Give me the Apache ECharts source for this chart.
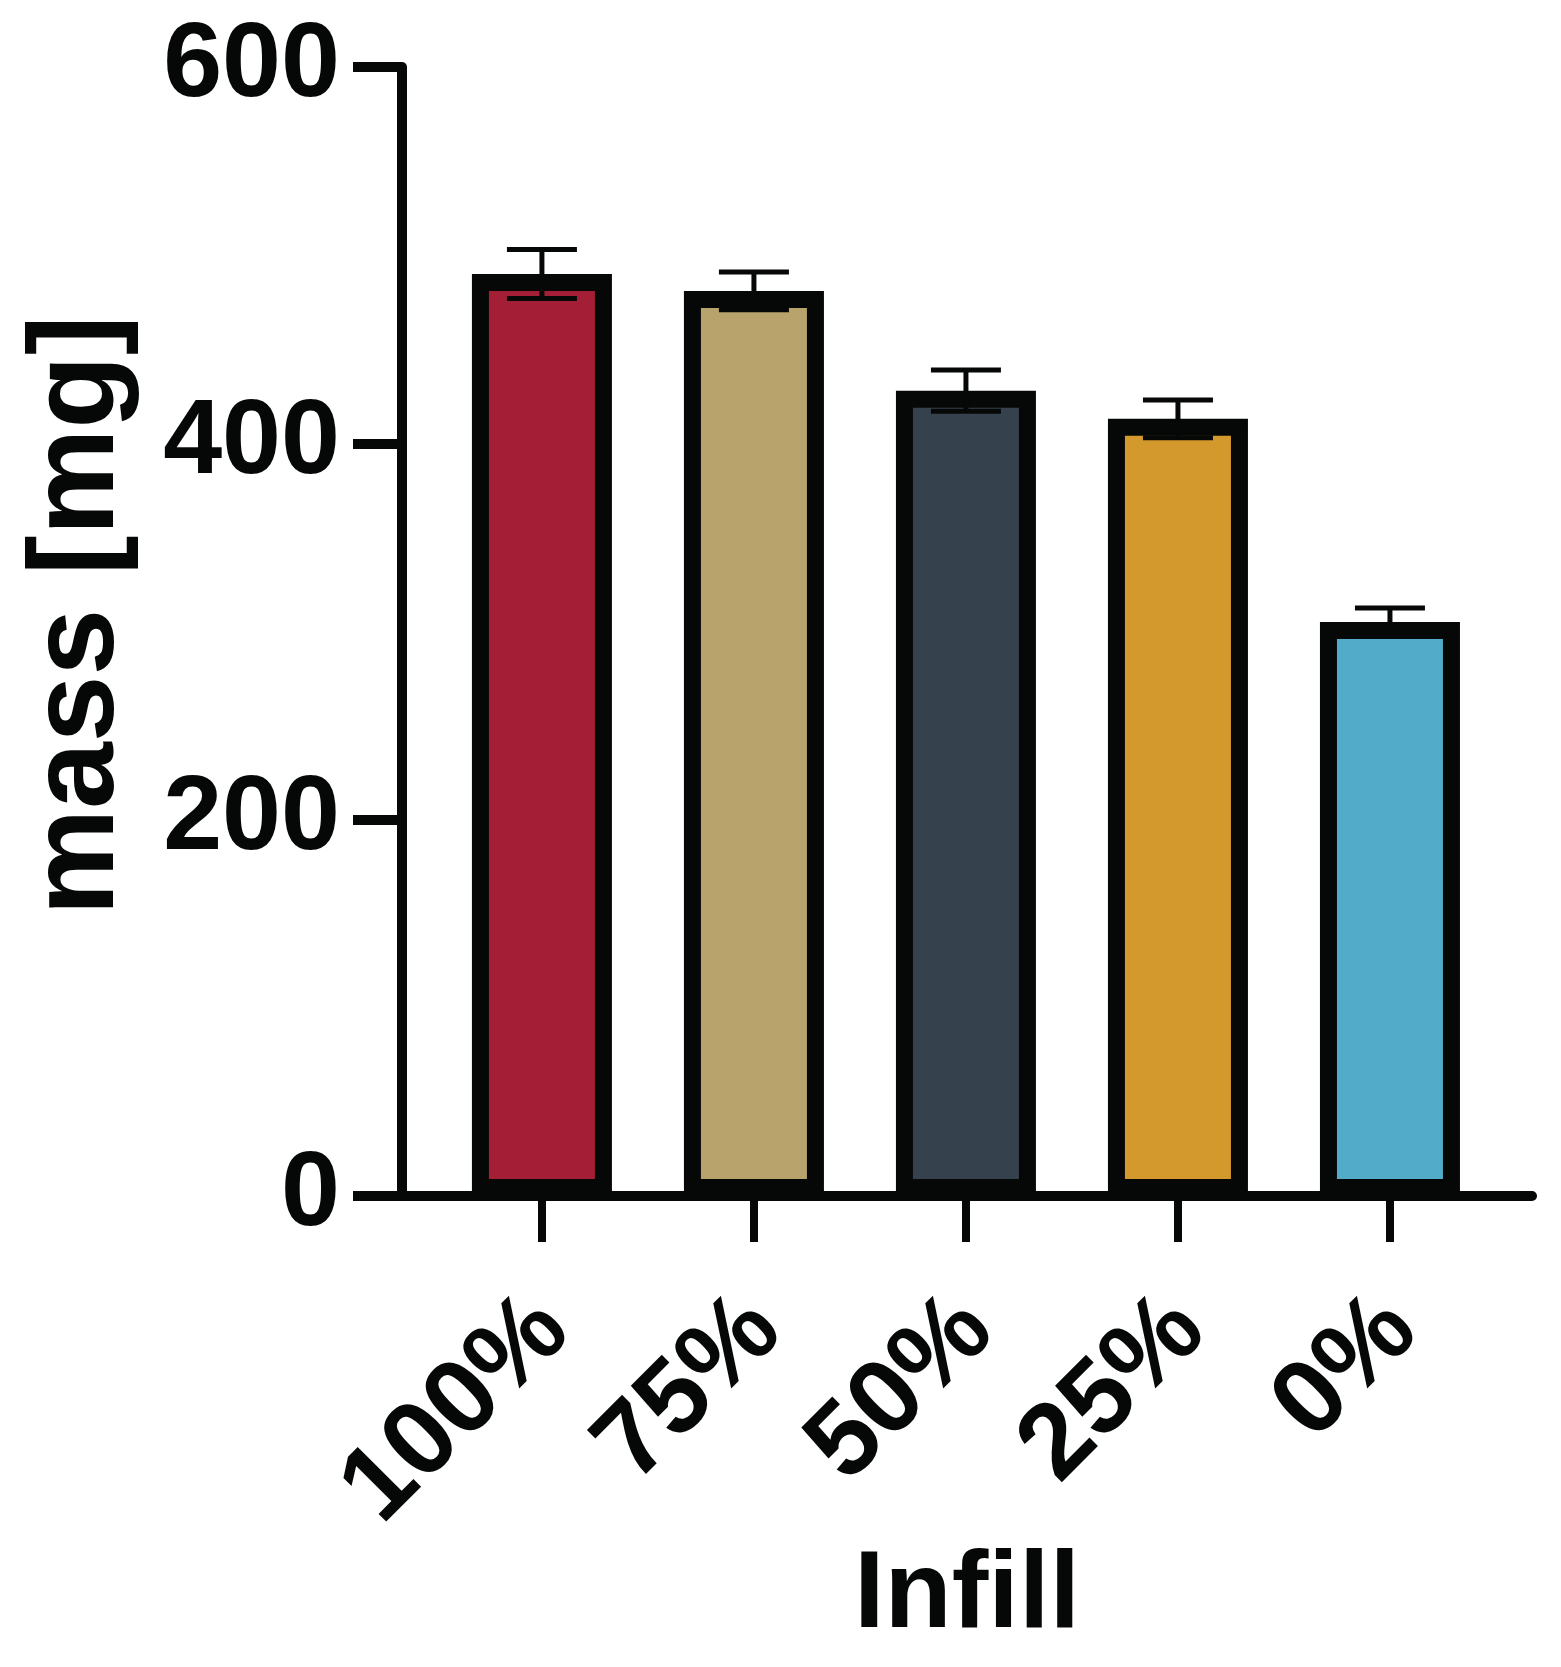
<!DOCTYPE html>
<html>
<head>
<meta charset="utf-8">
<script src="https://cdn.jsdelivr.net/npm/echarts@6/dist/echarts.min.js"></script>
<style>
html,body{margin:0;padding:0;background:#fff;}
#chart{width:1561px;height:1667px;}
</style>
</head>
<body>
<div id="chart"></div>
<script>
// ---- data ----
const categories = ['100%', '75%', '50%', '25%', '0%'];
const meanMass = [490, 481, 428, 413, 305];
const sdMass = [13, 10, 11, 10, 7.5];
const barColors = ['#a41f36', '#b8a36c', '#35414d', '#d4992d', '#52abc9'];
const yTicks = [0, 200, 400, 600];
const xPositions = [0, 1, 2, 3, 4];

const INK = '#060808';
const NUM_FONT = 'Liberation Sans';
const chart = echarts.init(document.getElementById('chart'), null, {renderer: 'canvas'});

const xMin = -0.66, xMax = 4.67;
const labelShift = 0.05;

const barData = categories.map((c, i) => ({
  value: [xPositions[i], meanMass[i]],
  itemStyle: {color: barColors[i]}
}));
const errData = categories.map((c, i) => [xPositions[i], meanMass[i], sdMass[i]]);

const option = {
  animation: false,
  backgroundColor: '#ffffff',
  grid: {left: 402, right: 29, top: 67, bottom: 471, containLabel: false},
  xAxis: [{
    type: 'value',
    min: xMin, max: xMax,
    position: 'bottom',
    name: 'Infill',
    nameLocation: 'middle',
    nameGap: 346,
    nameTextStyle: {fontFamily: 'Liberation Sans', fontWeight: 'bold', fontSize: 110, color: INK},
    splitLine: {show: false},
    axisLine: {show: true, onZero: false, lineStyle: {color: INK, width: 10}},
    axisTick: {show: true, inside: false, length: 46, customValues: xPositions, lineStyle: {color: INK, width: 8}},
    axisLabel: {show: false}
  }, {
    type: 'value',
    min: xMin - labelShift, max: xMax - labelShift,
    position: 'bottom',
    splitLine: {show: false},
    axisLine: {show: false},
    axisTick: {show: false},
    axisLabel: {
      show: true,
      customValues: xPositions,
      formatter: (v) => categories[Math.round(v)],
      rotate: 45,
      margin: 118,
      fontFamily: NUM_FONT, fontWeight: 'bold', fontSize: 106, color: INK
    }
  }],
  yAxis: {
    type: 'value',
    min: 0, max: 600, interval: 200,
    name: 'mass [mg]',
    nameLocation: 'middle',
    nameGap: 262,
    nameRotate: 90,
    nameTextStyle: {fontFamily: 'Liberation Sans', fontWeight: 'bold', fontSize: 120, color: INK, padding: [0, 0, 0, 32]},
    splitLine: {show: false},
    axisLine: {show: true, onZero: false, lineStyle: {color: INK, width: 10}},
    axisTick: {show: true, inside: false, length: 49, lineStyle: {color: INK, width: 10}},
    axisLabel: {
      margin: 62,
      customValues: yTicks,
      fontFamily: NUM_FONT, fontWeight: 'bold', fontSize: 106, color: INK
    }
  },
  series: [{
    type: 'bar',
    xAxisIndex: 0,
    data: barData,
    barWidth: 140,
    itemStyle: {borderColor: INK, borderWidth: 17},
    z: 2
  }, {
    type: 'custom',
    xAxisIndex: 0,
    data: errData,
    encode: {x: 0, y: 1},
    z: 5,
    renderItem: function (params, api) {
      const x = api.value(0), m = api.value(1), sd = api.value(2);
      const hi = api.coord([x, m + sd]);
      const lo = api.coord([x, m - sd]);
      const hw = 35;
      const st = {stroke: INK, lineWidth: 5, fill: null};
      return {
        type: 'group',
        children: [
          {type: 'line', shape: {x1: hi[0], y1: hi[1], x2: lo[0], y2: lo[1]}, style: st},
          {type: 'line', shape: {x1: hi[0] - hw, y1: hi[1], x2: hi[0] + hw, y2: hi[1]}, style: st},
          {type: 'line', shape: {x1: lo[0] - hw, y1: lo[1], x2: lo[0] + hw, y2: lo[1]}, style: st}
        ]
      };
    }
  }]
};
chart.setOption(option);
</script>
</body>
</html>
